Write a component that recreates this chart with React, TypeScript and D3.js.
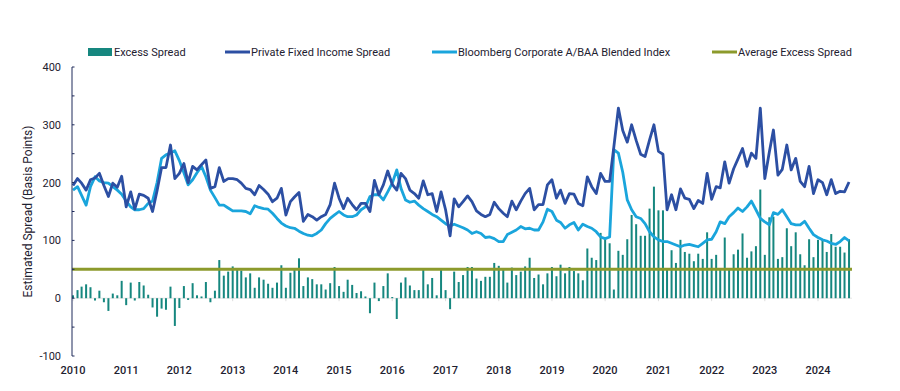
import React from 'react';
import * as d3 from 'd3';

// monthly, Jan 2010 .. Aug 2024
const privateSpread = [
  195, 207, 199, 187, 205, 208, 216, 195, 176, 199, 192, 211,
  158, 184, 154, 180, 178, 173, 150, 186, 226, 226, 265, 207,
  216, 233, 200, 228, 222, 231, 239, 190, 193, 226, 202, 207,
  207, 205, 199, 190, 188, 179, 195, 188, 180, 167, 173, 190,
  144, 167, 175, 183, 133, 145, 141, 135, 141, 145, 162, 199,
  173, 155, 173, 162, 153, 164, 164, 150, 204, 179, 196, 220,
  197, 187, 216, 207, 187, 181, 173, 203, 179, 181, 150, 184,
  153, 108, 172, 158, 167, 177, 167, 151, 145, 141, 145, 166,
  155, 147, 141, 168, 153, 168, 181, 190, 153, 162, 162, 196,
  205, 173, 187, 164, 181, 180, 164, 160, 210, 193, 181, 216,
  202, 202, 262, 329, 290, 270, 300, 273, 249, 245, 274, 300,
  254, 249, 153, 179, 153, 189, 173, 171, 155, 169, 164, 216,
  171, 193, 191, 236, 199, 224, 241, 259, 228, 251, 242, 329,
  207, 253, 291, 213, 223, 265, 222, 242, 202, 193, 228, 181,
  205, 200, 179, 205, 181, 185, 184, 201
];

const bloombergIndex = [
  187, 193, 178, 161, 193, 210, 203, 200, 199, 193, 187, 180,
  168, 158, 153, 153, 155, 164, 168, 200, 242, 248, 251, 255,
  238, 217, 196, 205, 217, 228, 210, 187, 174, 161, 161, 156,
  151, 151, 151, 150, 146, 160, 157, 155, 154, 147, 138, 130,
  125, 122, 121, 116, 112, 109, 108, 112, 118, 129, 138, 144,
  150, 144, 141, 141, 144, 153, 158, 176, 179, 179, 170, 184,
  199, 222, 190, 170, 166, 168, 161, 155, 150, 145, 141, 135,
  129, 125, 128, 125, 122, 118, 112, 115, 112, 105, 106, 103,
  98, 98, 110, 114, 118, 124, 120, 121, 118, 118, 132, 154,
  150, 135, 131, 121, 127, 131, 118, 128, 124, 121, 115, 106,
  103, 106, 257, 251, 218, 170, 153, 141, 138, 129, 115, 106,
  101, 98, 98, 95, 92, 89, 92, 93, 91, 89, 95, 101,
  102, 115, 132, 129, 141, 148, 156, 150, 158, 168, 153, 138,
  132, 127, 148, 145, 153, 141, 129, 127, 127, 133, 121, 110,
  105, 101, 99, 95, 93, 98, 105, 99
];

const excessSpread = [
  5, 14, 20, 24, 19, -4, 13, -7, -22, 8, 5, 30,
  -12, 27, -4, 28, 22, 6, -16, -32, -18, -20, 20, -48,
  -17, 21, -3, 26, 5, 3, 28, -7, 13, 66, 39, 46,
  55, 50, 48, 36, 43, 18, 36, 32, 25, 18, 27, 57,
  18, 44, 49, 69, 21, 36, 33, 24, 24, 15, 26, 54,
  21, 11, 32, 23, 9, 12, 3, -26, 27, -5, 21, 43,
  2, -36, 27, 36, 22, 14, 14, 49, 24, 35, 5, 49,
  14, -19, 46, 28, 40, 54, 54, 34, 30, 37, 37, 61,
  56, 50, 27, 53, 40, 46, 55, 70, 35, 41, 24, 43,
  54, 38, 58, 43, 54, 47, 43, 31, 86, 70, 66, 113,
  105, 95, 15, 82, 75, 102, 144, 128, 108, 108, 155, 193,
  152, 152, 50, 83, 61, 101, 80, 77, 64, 77, 68, 114,
  68, 75, 52, 105, 52, 76, 84, 112, 70, 81, 90, 188,
  75, 140, 141, 68, 71, 121, 90, 114, 76, 57, 102, 71,
  101, 101, 80, 111, 89, 89, 79, 102
];

const averageExcess = 50;
const years = d3.range(2010, 2025);
const yTicks = [-100, 0, 100, 200, 300, 400];

const legendItems = [
  { label: 'Excess Spread', color: '#16877f', kind: 'rect', x: 88 },
  { label: 'Private Fixed Income Spread', color: '#2c4fa3', kind: 'line', x: 225 },
  { label: 'Bloomberg Corporate A/BAA Blended Index', color: '#1aa5dc', kind: 'line', x: 432 },
  { label: 'Average Excess Spread', color: '#8c9a2c', kind: 'line', x: 712 }
];

const W = 900;
const H = 391;
const textColor = '#1e2130';

const dates = privateSpread.map((_, i) => new Date(2010, i, 1));

const x = d3.scaleTime()
  .domain([new Date(2010, 0, 1), new Date(2024, 0, 1)])
  .range([73, 818]);
const y = d3.scaleLinear().domain([-100, 400]).range([356, 67]);

const line = d3.line<number>()
  .x((_, i) => x(dates[i]))
  .y(d => y(d));

export default function App() {
  const axisX = 72;
  return (
    <svg width={W} height={H} style={{ position: 'absolute', left: 0, top: 0, background: '#fff' }}
      fontFamily="Roboto, 'Noto Sans', sans-serif">
      {/* legend */}
      {legendItems.map(d => (
        <g key={d.label} transform={`translate(${d.x},52)`}>
          {d.kind === 'rect'
            ? <rect x={0} y={-4} width={24} height={8} fill={d.color} />
            : <line x1={0} x2={25} y1={0} y2={0} stroke={d.color} strokeWidth={3} />}
          <text x={26} y={4} fontSize={11} fill={textColor}>{d.label}</text>
        </g>
      ))}

      {/* zero line */}
      <line x1={axisX} x2={852} y1={y(0)} y2={y(0)} stroke="#e4e4e4" strokeWidth={1} />
      {years.map(yr => (
        <line key={yr} x1={x(new Date(yr, 0, 1))} x2={x(new Date(yr, 0, 1))}
          y1={y(0)} y2={y(0) + 3} stroke="#dddddd" strokeWidth={1} />
      ))}

      {/* bars */}
      {excessSpread.map((v, i) => (
        <rect key={i} x={x(dates[i]) - 1} width={2}
          y={Math.min(y(v), y(0))} height={Math.abs(y(v) - y(0))} fill="#16877f" />
      ))}

      {/* average line */}
      <line x1={axisX} x2={852} y1={y(averageExcess)} y2={y(averageExcess)}
        stroke="#8c9a2c" strokeWidth={3} />

      <path d={line(bloombergIndex) || ''} fill="none" stroke="#1aa5dc" strokeWidth={2.8} strokeLinejoin="round" />
      <path d={line(privateSpread) || ''} fill="none" stroke="#2c4fa3" strokeWidth={2.8} strokeLinejoin="round" />

      {/* y axis */}
      <line x1={axisX} x2={axisX} y1={y(400)} y2={y(-100)} stroke="#1f2a5a" strokeWidth={1} />
      {d3.range(-100, 401, 50).map(t => (
        <line key={t} x1={axisX} x2={axisX + 2.5} y1={y(t)} y2={y(t)} stroke="#1f2a5a" strokeWidth={1} />
      ))}
      {yTicks.map(t => (
        <text key={t} x={61} y={y(t) + 4} fontSize={11} textAnchor="end" fill={textColor}>{t}</text>
      ))}
      <text transform={`translate(32,${(y(400) + y(-100)) / 2}) rotate(-90)`} textAnchor="middle"
        fontSize={12} fill={textColor}>Estimated Spread (Basis Points)</text>

      {/* x labels */}
      {years.map(yr => (
        <text key={yr} x={x(new Date(yr, 0, 1))} y={374} fontSize={11} fontWeight={500}
          textAnchor="middle" fill={textColor}>{yr}</text>
      ))}
    </svg>
  );
}
